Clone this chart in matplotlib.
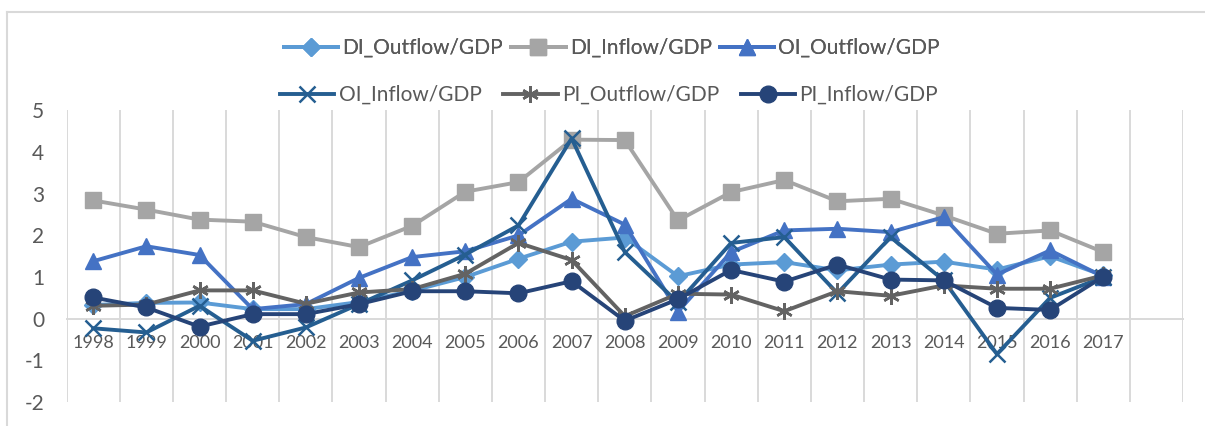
import matplotlib
matplotlib.use("Agg")
import matplotlib.pyplot as plt
from matplotlib.lines import Line2D

plt.rcParams['font.family'] = ['Lato', 'DejaVu Sans']

years = ["1998", "1999", "2000", "2001", "2002", "2003", "2004", "2005", "2006", "2007",
         "2008", "2009", "2010", "2011", "2012", "2013", "2014", "2015", "2016", "2017"]

di_outflow = [0.33, 0.38, 0.39, 0.23, 0.23, 0.40, 0.67, 1.00, 1.44, 1.85,
              1.95, 1.02, 1.30, 1.36, 1.16, 1.30, 1.37, 1.18, 1.50, 1.04]
di_inflow = [2.84, 2.62, 2.38, 2.33, 1.96, 1.72, 2.23, 3.05, 3.28, 4.30,
             4.29, 2.36, 3.04, 3.33, 2.82, 2.88, 2.48, 2.04, 2.12, 1.60]
oi_outflow = [1.38, 1.74, 1.53, 0.23, 0.35, 0.98, 1.48, 1.62, 2.00, 2.88,
              2.26, 0.17, 1.60, 2.12, 2.16, 2.08, 2.44, 1.06, 1.64, 1.01]
oi_inflow = [-0.23, -0.33, 0.31, -0.53, -0.21, 0.35, 0.92, 1.54, 2.24, 4.33,
             1.60, 0.39, 1.82, 1.96, 0.61, 1.96, 0.92, -0.85, 0.50, 1.00]
pi_outflow = [0.31, 0.34, 0.68, 0.68, 0.36, 0.63, 0.71, 1.08, 1.82, 1.41,
              0.06, 0.60, 0.58, 0.18, 0.66, 0.55, 0.80, 0.72, 0.72, 1.04]
pi_inflow = [0.51, 0.27, -0.19, 0.11, 0.11, 0.35, 0.66, 0.66, 0.61, 0.90,
             -0.05, 0.47, 1.17, 0.89, 1.30, 0.94, 0.92, 0.26, 0.21, 1.01]

series = [
    ("DI_Outflow/GDP", di_outflow, "#5B9BD5", "D", 9),
    ("DI_Inflow/GDP", di_inflow, "#A5A5A5", "s", 12),
    ("OI_Outflow/GDP", oi_outflow, "#4472C4", "^", 12),
    ("OI_Inflow/GDP", oi_inflow, "#255E91", "x", 11),
    ("PI_Outflow/GDP", pi_outflow, "#636363", (6, 2, 0), 12),
    ("PI_Inflow/GDP", pi_inflow, "#264478", "o", 12),
]

W, H = 1205, 426
fig = plt.figure(figsize=(W / 100, H / 100), dpi=100)
ax = fig.add_axes([66.6 / W, (H - 402) / H, (1183 - 66.6) / W, (402 - 110.5) / H])

x = list(range(len(years)))
handles = []
for name, vals, col, mk, ms in series:
    mew = 1.8 if mk in ("x", (6, 2, 0)) else 1.0
    h, = ax.plot(x, vals, color=col, lw=2.8, marker=mk, markersize=ms,
                 markeredgewidth=mew, markeredgecolor=col, markerfacecolor=col,
                 label=name, zorder=3, solid_joinstyle='round')
    handles.append(h)

ax.set_xlim(-0.5, 20.5)
ax.set_ylim(-2, 5)
ax.set_yticks(range(-2, 6))
ax.set_yticklabels([str(v) for v in range(-2, 6)])

# vertical gridlines between categories
for b in range(22):
    ax.axvline(b - 0.5, color="#D9D9D9", lw=1.4, zorder=1)

for s in ["top", "right", "left"]:
    ax.spines[s].set_visible(False)
ax.spines["bottom"].set_position(("data", 0))
ax.spines["bottom"].set_color("#D9D9D9")
ax.spines["bottom"].set_linewidth(1.4)
ax.spines["bottom"].set_zorder(1)
ax.set_xticks(x)
ax.set_xticklabels(years)
ax.tick_params(axis="x", length=0, pad=12, labelsize=13, labelcolor="#595959")
ax.tick_params(axis="y", length=0, pad=16, labelsize=15, labelcolor="#595959")
for t in ax.get_yticklabels():
    t.set_horizontalalignment("right")

# chart border (partially visible)
fig.add_artist(Line2D([7 / W, 7 / W], [0, (H - 12) / H], transform=fig.transFigure,
                      color="#D9D9D9", lw=1.5))
fig.add_artist(Line2D([7 / W, 1], [(H - 12) / H, (H - 12) / H], transform=fig.transFigure,
                      color="#D9D9D9", lw=1.5))

leg_kw = dict(frameon=False, ncol=3, fontsize=15, handlelength=2.6, handletextpad=0.2,
              labelcolor="#595959", loc="center", borderaxespad=0, borderpad=0)
leg1 = fig.legend(handles=handles[:3], bbox_to_anchor=(612 / W, (H - 48) / H),
                  columnspacing=0.4, **leg_kw)
fig.add_artist(leg1)
leg2 = fig.legend(handles=handles[3:], bbox_to_anchor=(609 / W, (H - 95) / H),
                  columnspacing=1.05, **leg_kw)

fig.savefig("out.png", dpi=100)
